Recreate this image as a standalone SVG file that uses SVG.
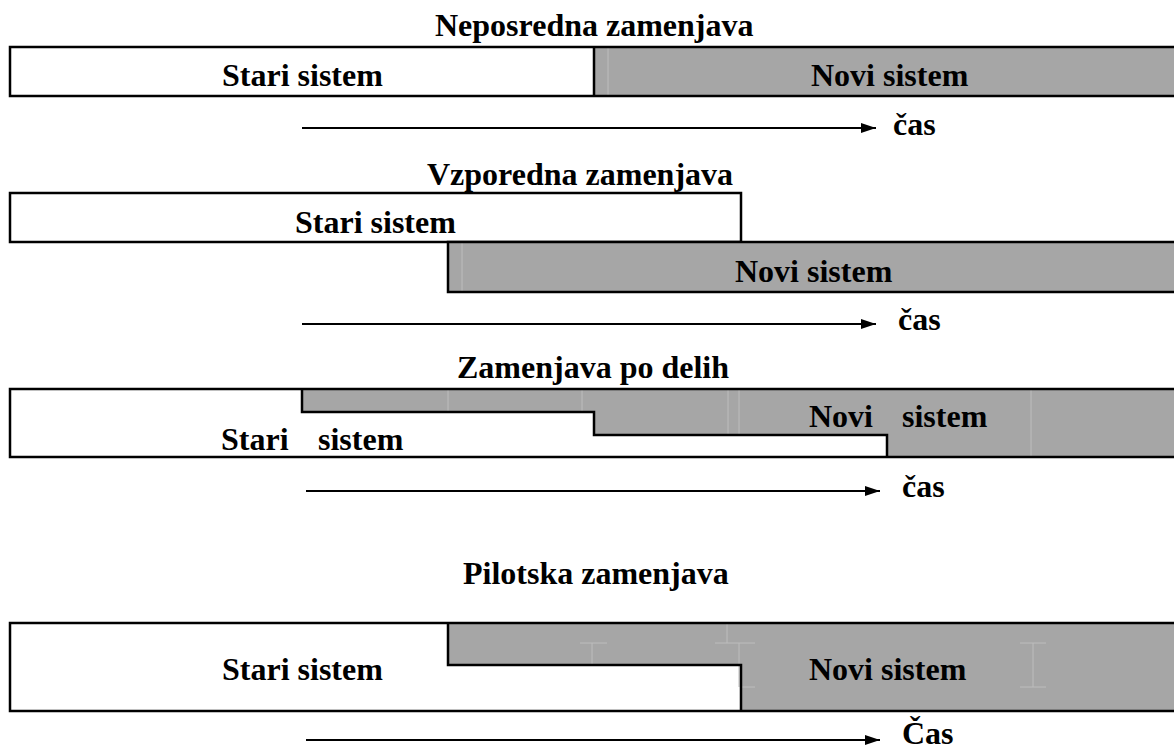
<svg xmlns="http://www.w3.org/2000/svg" width="1174" height="751" viewBox="0 0 1174 751">
  <style>
    text { font-family: "Liberation Serif", "Times New Roman", serif; font-weight: bold; font-size: 32px; fill: #000; }
    .old { fill: #ffffff; stroke: none; }
    .new { fill: #a6a6a6; stroke: none; }
    .edge { fill: none; stroke: #000; stroke-width: 2.5; }
    .seam { fill: none; stroke: #bdbdbd; stroke-width: 1; }
    .axis { fill: none; stroke: #000; stroke-width: 2; }
  </style>
  <defs>
    <marker id="head" viewBox="0 0 15 10" refX="15" refY="5" markerWidth="15" markerHeight="10" markerUnits="userSpaceOnUse" orient="auto">
      <path d="M0,0 L15,5 L0,10 Z" fill="#000"/>
    </marker>
  </defs>

  <rect width="1174" height="751" fill="#ffffff"/>

  <!-- Direct changeover -->
  <g id="title-direct"><text x="435" y="36">Neposredna zamenjava</text></g>
  <g id="direct-old">
    <rect class="old" x="10" y="47" width="584" height="49"/>
    <text x="222" y="86">Stari sistem</text>
  </g>
  <g id="direct-new">
    <rect class="new" x="594" y="47" width="590" height="49"/>
    <path class="seam" d="M608,48 V95"/>
    <text x="811" y="86">Novi sistem</text>
  </g>
  <path class="edge" d="M1184,47 H10 V96 H1184 M594,47 V96"/>
  <g id="time-1"><text x="893" y="135">čas</text></g>

  <!-- Parallel changeover -->
  <g id="title-parallel"><text x="427" y="185">Vzporedna zamenjava</text></g>
  <g id="parallel-old">
    <rect class="edge" x="10" y="193" width="731" height="49" style="fill:#fff"/>
    <text x="295" y="233">Stari sistem</text>
  </g>
  <g id="parallel-new">
    <rect class="new" x="448" y="242" width="736" height="50"/>
    <path class="seam" d="M462,243 V291"/>
    <path class="edge" d="M1184,242 H448 V292 H1184"/>
    <text x="735" y="282">Novi sistem</text>
  </g>
  <g id="time-2"><text x="898" y="330">čas</text></g>

  <!-- Phased changeover -->
  <g id="title-phased"><text x="457" y="378">Zamenjava po delih</text></g>
  <g id="phased-old">
    <rect class="old" x="10" y="389" width="1174" height="68"/>
    <text x="221" y="450">Stari</text>
    <text x="318" y="450">sistem</text>
  </g>
  <g id="phased-new">
    <path class="new" d="M302,389 H1184 V457 H887 V435 H594 V412 H302 Z"/>
    <path class="seam" d="M448,390 V411 M582,390 V411 M728,390 V434 M739,390 V434 M1031,390 V456"/>
    <path class="edge" d="M302,389 V412 H594 V435 H887 V457"/>
    <text x="809" y="427">Novi</text>
    <text x="902" y="427">sistem</text>
  </g>
  <path class="edge" d="M1184,389 H10 V457 H1184"/>
  <g id="time-3"><text x="902" y="497">čas</text></g>

  <!-- Pilot changeover -->
  <g id="title-pilot"><text x="463" y="584">Pilotska zamenjava</text></g>
  <g id="pilot-old">
    <rect class="old" x="10" y="623" width="1174" height="88"/>
    <text x="222" y="680">Stari sistem</text>
  </g>
  <g id="pilot-new">
    <path class="new" d="M448,623 H1184 V711 H741 V665 H448 Z"/>
    <path class="seam" d="M580,643 H607 M592,643 V664 M727,624 V643 M715,643 H755 M739,643 V687 M741,687 H755 M1020,643 H1046 M1033,643 V687 M1020,687 H1046"/>
    <path class="edge" d="M448,623 V665 H741 V711"/>
    <text x="809" y="680">Novi sistem</text>
  </g>
  <path class="edge" d="M1184,623 H10 V711 H1184"/>
  <g id="time-4"><text x="902" y="744">Čas</text></g>

  <!-- time axes -->
  <g id="connectors">
    <line class="axis" x1="302" y1="128" x2="876" y2="128" marker-end="url(#head)"/>
    <line class="axis" x1="302" y1="324" x2="876" y2="324" marker-end="url(#head)"/>
    <line class="axis" x1="306" y1="491" x2="880" y2="491" marker-end="url(#head)"/>
    <line class="axis" x1="306" y1="740" x2="880" y2="740" marker-end="url(#head)"/>
  </g>
</svg>
